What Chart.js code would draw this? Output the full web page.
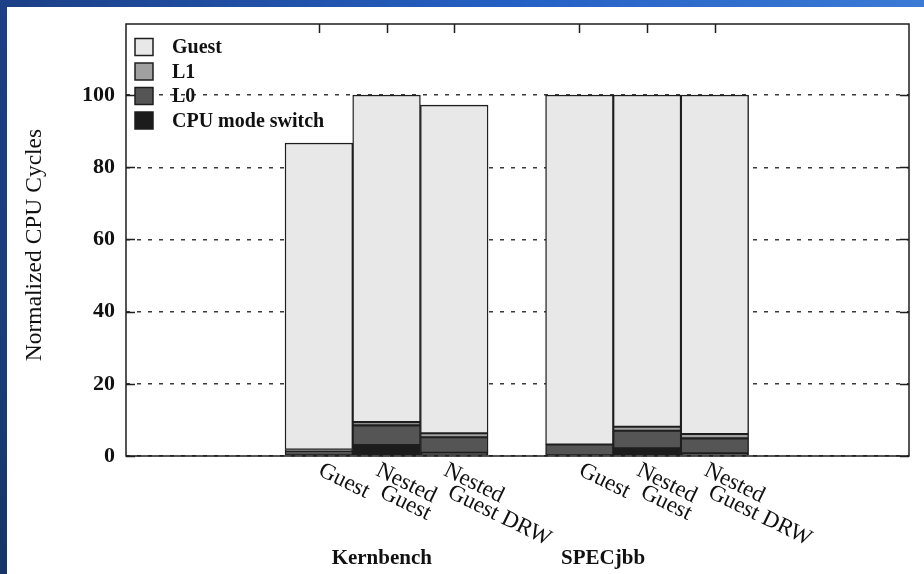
<!DOCTYPE html>
<html>
<head>
<meta charset="utf-8">
<script src="https://cdn.jsdelivr.net/npm/chart.js@4.4.1/dist/chart.umd.min.js"></script>
<style>
  html, body { margin: 0; padding: 0; }
  body { width: 924px; height: 574px; position: relative; overflow: hidden; background: #fff; }
  #topbar { position: absolute; left: 0; top: 0; width: 924px; height: 7px;
            background: linear-gradient(to right, #1c3f86, #2460c4 55%, #3b7ad5); }
  #sidebar { position: absolute; left: 0; top: 0; width: 7px; height: 574px;
             background: linear-gradient(to bottom, #1c3f86, #1a3d7a 60%, #163566); }
  #wrap { position: absolute; left: 7px; top: 7px; width: 917px; height: 567px; background: #fff; }
</style>
</head>
<body>
<div id="topbar"></div>
<div id="sidebar"></div>
<div id="wrap"><canvas id="chart" width="917" height="567"></canvas></div>
<script>
// Benchmarks and the three configurations measured for each one
const benchmarks = ['Kernbench', 'SPECjbb'];
const configs = [['Guest'], ['Nested', 'Guest'], ['Nested', 'Guest DRW']];

// Stacked components, bottom to top; one value per bar (Kernbench x3, SPECjbb x3)
const seriesNames = ['CPU mode switch', 'L0', 'L1', 'Guest'];
const cpuModeSwitch = [0, 3.0, 0.9, 0, 2.1, 0.75];
const l0 = [1.4, 5.5, 4.3, 3.2, 4.9, 4.15];
const l1 = [0.4, 0.9, 1.1, 0, 1.1, 1.2];
const guest = [84.9, 90.6, 90.9, 96.8, 91.9, 93.9];

const yTickValues = [0, 20, 40, 60, 80, 100];
const yTitle = 'Normalized CPU Cycles';

const seriesColors = ['#1c1c1c', '#555555', '#a0a0a0', '#e8e8e8'];
const seriesValues = [cpuModeSwitch, l0, l1, guest];

// Bar slots along a linear x axis: one unit per bar, a wider gap between benchmarks
const GROUP_STRIDE = 3.85;
const xPos = [];
benchmarks.forEach((b, g) => configs.forEach((c, i) => xPos.push(g * GROUP_STRIDE + i)));
const groupLabelAt = [0.93, 4.2];

const datasets = seriesNames.map((name, k) => ({
  label: name,
  data: seriesValues[k].map((v, j) => ({ x: xPos[j], y: v > 0 ? v : null })),
  backgroundColor: seriesColors[k],
  borderColor: '#1e1e1e',
  borderWidth: 1.4,
  borderSkipped: false
}));

const SERIF = '"Liberation Serif", "Times New Roman", serif';

// Plot frame with inward ticks on all sides
const framePlugin = {
  id: 'frame',
  afterDatasetsDraw(chart) {
    const { ctx, chartArea: a, scales: { x, y } } = chart;
    ctx.save();
    ctx.strokeStyle = '#1e1e1e';
    ctx.lineWidth = 1.5;
    ctx.strokeRect(a.left, a.top, a.right - a.left, a.bottom - a.top);
    ctx.beginPath();
    y.ticks.forEach(t => {
      const py = Math.round(y.getPixelForValue(t.value)) + 0.5;
      ctx.moveTo(a.left, py); ctx.lineTo(a.left + 9, py);
      ctx.moveTo(a.right, py); ctx.lineTo(a.right - 9, py);
    });
    x.ticks.forEach(t => {
      const px = Math.round(x.getPixelForValue(t.value)) + 0.5;
      ctx.moveTo(px, a.top); ctx.lineTo(px, a.top + 9);
    });
    ctx.stroke();
    ctx.restore();
  }
};

// Legend inside the plot, axis title, slanted configuration labels and benchmark names
const labelPlugin = {
  id: 'labels',
  afterDraw(chart) {
    const { ctx, chartArea: a, scales: { x } } = chart;
    ctx.save();

    // legend: top series first
    const order = [3, 2, 1, 0];
    ctx.textAlign = 'left';
    ctx.textBaseline = 'middle';
    ctx.font = 'bold 20px ' + SERIF;
    order.forEach((k, r) => {
      const cy = a.top + 23 + r * 24.5;
      const bx = a.left + 9;
      ctx.fillStyle = seriesColors[k];
      ctx.fillRect(bx, cy - 8.5, 18, 17);
      ctx.strokeStyle = '#1e1e1e';
      ctx.lineWidth = 1.5;
      ctx.strokeRect(bx, cy - 8.5, 18, 17);
      ctx.fillStyle = '#111';
      ctx.fillText(seriesNames[k], bx + 37, cy + 1);
    });

    // y axis title
    ctx.save();
    ctx.font = '23.5px ' + SERIF;
    ctx.textAlign = 'center';
    ctx.textBaseline = 'middle';
    ctx.translate(28, (a.top + a.bottom) / 2 + 5);
    ctx.rotate(-Math.PI / 2);
    ctx.fillText(yTitle, 0, 0);
    ctx.restore();

    // configuration labels, slanted downwards
    ctx.font = '23px ' + SERIF;
    ctx.textAlign = 'left';
    ctx.textBaseline = 'top';
    ctx.fillStyle = '#111';
    xPos.forEach((v, j) => {
      const lines = configs[j % configs.length];
      const n = lines.length;
      const px = x.getPixelForValue(v);
      lines.forEach((ln, i) => {
        ctx.save();
        ctx.translate(px + 6 - 10 * (n - 1) + 4 * i, a.bottom + 3 + 22 * i);
        ctx.rotate(26 * Math.PI / 180);
        ctx.fillText(ln, 0, 0);
        ctx.restore();
      });
    });

    // benchmark names
    ctx.font = 'bold 21px ' + SERIF;
    ctx.textAlign = 'center';
    ctx.textBaseline = 'middle';
    benchmarks.forEach((b, g) => {
      ctx.fillText(b, x.getPixelForValue(groupLabelAt[g]), a.bottom + 103);
    });
    ctx.restore();
  }
};

new Chart(document.getElementById('chart'), {
  type: 'bar',
  data: { datasets },
  options: {
    responsive: false,
    animation: false,
    devicePixelRatio: 1,
    layout: { padding: { top: 17, right: 15, left: 0, bottom: 0 } },
    datasets: { bar: { barPercentage: 1, categoryPercentage: 1 } },
    plugins: { legend: { display: false }, tooltip: { enabled: false } },
    scales: {
      x: {
        type: 'linear',
        stacked: true,
        offset: false,
        min: -2.85,
        max: 8.72,
        // one tick per bar, so bars span the full slot
        afterBuildTicks: s => { s.ticks = xPos.map(v => ({ value: v })); },
        ticks: { display: false },
        grid: { display: false, drawTicks: false, offset: false },
        border: { display: false },
        afterFit: s => { s.height = 118; s.paddingLeft = 0; s.paddingRight = 0; }
      },
      y: {
        stacked: true,
        min: 0,
        max: 119.7,
        afterBuildTicks: s => { s.ticks = yTickValues.map(v => ({ value: v })); },
        ticks: {
          font: { family: SERIF, size: 22, weight: 'bold' },
          color: '#111',
          padding: 11
        },
        grid: { drawTicks: false, color: '#3a3a3a', lineWidth: 1.5 },
        border: { display: false, dash: [4, 7] },
        title: { display: false },
        afterFit: s => { s.width = 119; s.paddingTop = 0; s.paddingBottom = 0; }
      }
    }
  },
  plugins: [framePlugin, labelPlugin]
});
</script>
</body>
</html>
